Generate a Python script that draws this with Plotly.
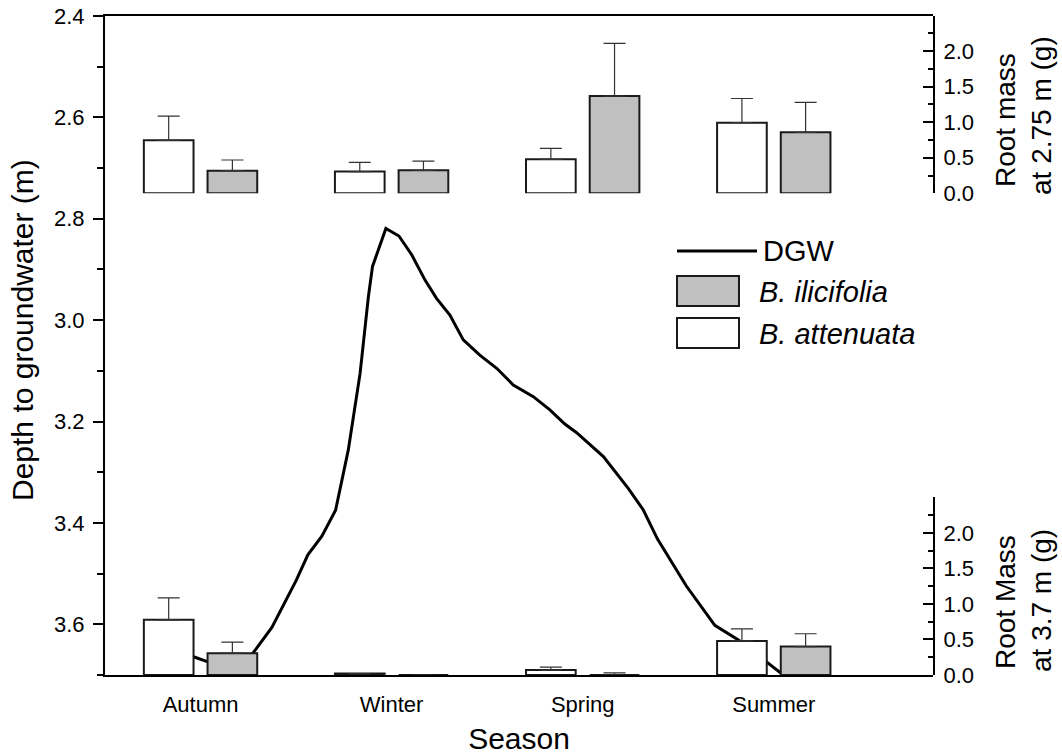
import plotly.graph_objects as go

# ---- data ---------------------------------------------------------------
seasons = ["Autumn", "Winter", "Spring", "Summer"]
sample_fortnight = [3, 9, 15, 21]          # fortnight of each seasonal harvest

# root mass at 2.75 m depth (g): mean and upper SE
att_275 = [0.745, 0.305, 0.478, 0.993]
att_275_se = [0.34, 0.13, 0.155, 0.34]
ili_275 = [0.318, 0.323, 1.368, 0.858]
ili_275_se = [0.15, 0.13, 0.74, 0.42]

# root mass at 3.7 m depth (g): mean and upper SE
att_37 = [0.776, 0.02, 0.07, 0.48]
att_37_se = [0.31, None, 0.04, 0.17]
ili_37 = [0.307, 0.0, 0.0, 0.40]
ili_37_se = [0.155, None, 0.03, 0.18]

# depth to groundwater through the year
dgw_fortnight = [2.0, 2.78, 3.23, 3.9, 4.54, 5.24, 6.0, 6.37, 6.81, 7.24, 7.64,
                 8.01, 8.27, 8.40, 8.82, 9.23, 9.63, 10.05, 10.41, 10.83, 11.25,
                 11.77, 12.30, 12.82, 13.45, 13.97, 14.44, 14.81, 15.65, 16.43,
                 16.90, 17.35, 18.25, 19.15, 19.89, 20.83, 21.3]
dgw_depth = [3.643, 3.664, 3.674, 3.68, 3.666, 3.606, 3.514, 3.463, 3.426, 3.375,
             3.256, 3.105, 2.954, 2.894, 2.819, 2.834, 2.871, 2.921, 2.957, 2.990,
             3.039, 3.069, 3.095, 3.128, 3.151, 3.177, 3.205, 3.222, 3.269, 3.332,
             3.374, 3.432, 3.524, 3.602, 3.631, 3.676, 3.70]

# ---- styling ------------------------------------------------------------
FONT = "Liberation Sans, Arial, sans-serif"
INK = "#000000"
GREY = "#c0c0c0"
EDGE = "#1a1a1a"
ERR = "#333333"
XR = [0, 26]

W, H = 1062, 755
ML, MR, MT, MB = 105, 129, 16, 80
PW, PH = W - ML - MR, H - MT - MB

fig = go.Figure()

fig.add_trace(go.Scatter(
    x=dgw_fortnight, y=dgw_depth, mode="lines", name="DGW",
    line=dict(color=INK, width=3), xaxis="x", yaxis="y", showlegend=False))


def bars(vals, se, fill, name, yaxis):
    return go.Bar(
        x=sample_fortnight, y=vals, name=name, xaxis="x", yaxis=yaxis,
        marker=dict(color=fill, line=dict(color=EDGE, width=2)),
        error_y=dict(type="data", symmetric=False, array=se,
                     arrayminus=[0] * len(vals), color=ERR, thickness=1.2, width=11),
        showlegend=False)


fig.add_trace(bars(att_275, att_275_se, "white", "B. attenuata", "y2"))
fig.add_trace(bars(ili_275, ili_275_se, GREY, "B. ilicifolia", "y2"))
fig.add_trace(bars(att_37, att_37_se, "white", "B. attenuata", "y3"))
fig.add_trace(bars(ili_37, ili_37_se, GREY, "B. ilicifolia", "y3"))

tickfont = dict(family=FONT, size=22, color=INK)
top_bottom = 0.731       # depth 2.75 m on the groundwater axis
top_range = 2.494
bot_top = 0.2697

common = dict(automargin=False, showgrid=False, zeroline=False)

fig.update_layout(
    width=W, height=H,
    margin=dict(l=ML, r=MR, t=MT, b=MB, pad=0, autoexpand=False),
    paper_bgcolor="white", plot_bgcolor="rgba(0,0,0,0)",
    font=dict(family=FONT, color=INK),
    barmode="group", bargap=1 / 3, bargroupgap=0.22,
    showlegend=False,
    xaxis=dict(range=XR, anchor="y", showline=True, linecolor=INK, linewidth=2,
               mirror=True, tickmode="array", tickvals=sample_fortnight,
               ticktext=seasons, ticks="", tickfont=tickfont, ticklabelstandoff=9,
               title=dict(text="Season", font=dict(family=FONT, size=30), standoff=18),
               **common),
    xaxis2=dict(range=XR, overlaying="x", anchor="y", showline=False,
                showticklabels=False, tickmode="linear", tick0=0,
                dtick=4, ticks="outside", ticklen=11, tickwidth=2, tickcolor=INK,
                minor=dict(tickmode="linear", tick0=0, dtick=1, ticks="outside",
                           ticklen=6, tickwidth=2, tickcolor=INK), **common),
    xaxis3=dict(range=XR, overlaying="x", anchor="y", showline=False,
                showticklabels=False, tickmode="linear", tick0=1,
                dtick=2, ticks="inside", ticklen=6, tickwidth=2, tickcolor=INK,
                **common),
    xaxis4=dict(range=XR, overlaying="x", anchor="y2", showline=True, linecolor=INK,
                linewidth=2, showticklabels=False,
                tickmode="linear", tick0=1, dtick=2, ticks="outside", ticklen=6,
                tickwidth=2, tickcolor=INK, **common),
    xaxis5=dict(range=XR, overlaying="x", anchor="y2", showline=False,
                showticklabels=False, tickmode="linear", tick0=1,
                dtick=2, ticks="inside", ticklen=6, tickwidth=2, tickcolor=INK,
                **common),
    yaxis=dict(range=[3.7, 2.4], anchor="x", side="left", showline=True,
               linecolor=INK, linewidth=2,
               tickmode="linear", tick0=2.4, dtick=0.2, tickformat=".1f",
               ticks="outside", ticklen=10, tickwidth=2, tickcolor=INK,
               minor=dict(tickmode="linear", tick0=2.4, dtick=0.1, ticks="outside",
                          ticklen=6, tickwidth=2, tickcolor=INK),
               tickfont=tickfont, ticklabelstandoff=4, **common),
    yaxis4=dict(range=[3.7, 2.4], overlaying="y", anchor="x", side="right",
                showline=True, linecolor=INK, linewidth=2,
                showticklabels=False, tickmode="array",
                tickvals=[2.8, 2.9, 3.0, 3.1, 3.2, 3.3], ticks="inside", ticklen=5,
                tickwidth=2, tickcolor=INK, **common),
    yaxis2=dict(domain=[top_bottom, 1], range=[0, top_range], anchor="x",
                side="right", showline=True, linecolor=INK, linewidth=2,
                tickmode="array", tickvals=[0, 0.5, 1.0, 1.5, 2.0], tickformat=".1f",
                ticks="inside", ticklen=10, tickwidth=2, tickcolor=INK,
                minor=dict(tickmode="array", tickvals=[0.25, 0.75, 1.25, 1.75, 2.25],
                           ticks="inside", ticklen=5, tickwidth=2, tickcolor=INK),
                tickfont=tickfont, ticklabelstandoff=4, **common),
    yaxis3=dict(domain=[0, bot_top], range=[0, 2.5], anchor="x",
                side="right", showline=True, linecolor=INK, linewidth=2,
                tickmode="array", tickvals=[0, 0.5, 1.0, 1.5, 2.0], tickformat=".1f",
                ticks="inside", ticklen=10, tickwidth=2, tickcolor=INK,
                minor=dict(tickmode="array", tickvals=[0.25, 0.75, 1.25, 1.75, 2.25],
                           ticks="inside", ticklen=5, tickwidth=2, tickcolor=INK),
                tickfont=tickfont, ticklabelstandoff=4, **common),
)


def px(x, y):
    """pixel position on the page -> paper coordinates"""
    return (x - ML) / PW, (H - MB - y) / PH


def vtext(text, x, y, size):
    """vertical (bottom-to-top) label centred on a page position"""
    ax, ay = px(x, y)
    fig.add_annotation(text=text, x=ax, y=ay, xref="paper", yref="paper",
                       textangle=-90, showarrow=False, xanchor="center",
                       yanchor="middle", font=dict(family=FONT, size=size, color=INK))


# left axis title, sitting a little above centre
vtext("Depth to groundwater (m)", 22, 330, 30)

# right-hand axis titles, one annotation per line
vtext("Root mass", 1005, 120, 28)
vtext("at 2.75 m (g)", 1041, 116, 28)
vtext("Root Mass", 1005, 602, 28)
vtext("at 3.7 m (g)", 1041, 601, 28)

# legend
lx0, _ = px(677, 0)
lx1, _ = px(757, 0)
_, ly = px(0, 251)
fig.add_shape(type="line", xref="paper", yref="paper", x0=lx0, x1=lx1, y0=ly, y1=ly,
              line=dict(color=INK, width=3))
tx, _ = px(761, 0)
fig.add_annotation(text="DGW", x=tx, y=ly, xref="paper", yref="paper",
                   showarrow=False, xanchor="left", yanchor="middle",
                   font=dict(family=FONT, size=29, color=INK))
for label, fill, top in [("B. ilicifolia", GREY, 276), ("B. attenuata", "white", 318)]:
    bx0, by0 = px(677, top + 30)
    bx1, by1 = px(739, top)
    fig.add_shape(type="rect", xref="paper", yref="paper", x0=bx0, x1=bx1,
                  y0=by0, y1=by1, fillcolor=fill, line=dict(color=EDGE, width=2))
    tx, ty = px(757, top + 16)
    fig.add_annotation(text="<i>" + label + "</i>", x=tx, y=ty, xref="paper",
                       yref="paper", showarrow=False, xanchor="left", yanchor="middle",
                       font=dict(family=FONT, size=29, color=INK))

fig.write_html("out.html")
